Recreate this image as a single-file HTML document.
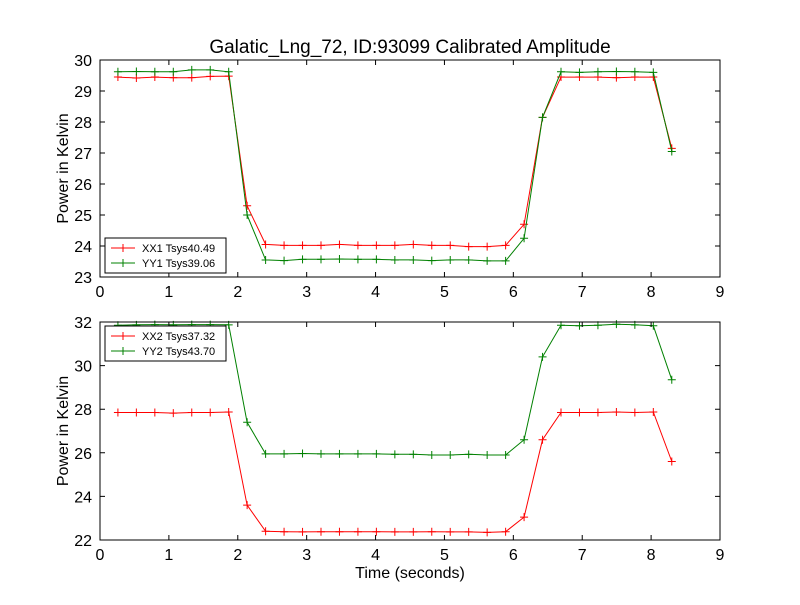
<!DOCTYPE html>
<html><head><meta charset="utf-8"><style>
body{margin:0;background:#fff;}
svg{font-family:"Liberation Sans","DejaVu Sans",sans-serif;}
</style></head><body>
<svg id="chart" width="800" height="600" viewBox="0 0 800 600" xmlns="http://www.w3.org/2000/svg">
<rect width="800" height="600" fill="#fff"/>
<text x="410" y="53" font-size="19" text-anchor="middle">Galatic_Lng_72, ID:93099 Calibrated Amplitude</text>
<g id="g1"></g><g id="g2"></g>
<text x="410" y="578" font-size="16" text-anchor="middle">Time (seconds)</text>
</svg>
<script>
const times = [];
for (let i = 0; i < 31; i++) times.push(+(0.26 + i * 0.268).toFixed(3));
const xx1 = [29.45,29.42,29.45,29.43,29.43,29.47,29.48,25.3,24.05,24.02,24.02,24.02,24.05,24.02,24.02,24.02,24.05,24.02,24.02,23.98,23.98,24.02,24.7,28.15,29.45,29.45,29.45,29.43,29.45,29.45,27.15];
const yy1 = [29.62,29.63,29.62,29.62,29.68,29.68,29.62,25.0,23.55,23.53,23.57,23.57,23.58,23.57,23.57,23.55,23.55,23.53,23.55,23.55,23.52,23.52,24.25,28.15,29.62,29.6,29.62,29.63,29.62,29.6,27.05];
const xx2 = [27.85,27.85,27.85,27.82,27.85,27.85,27.87,23.6,22.4,22.38,22.37,22.38,22.38,22.38,22.38,22.37,22.37,22.38,22.37,22.37,22.35,22.38,23.05,26.6,27.85,27.85,27.85,27.87,27.85,27.87,25.6];
const yy2 = [31.85,31.87,31.88,31.87,31.88,31.88,31.87,27.4,25.95,25.95,25.97,25.95,25.95,25.95,25.95,25.93,25.93,25.9,25.9,25.93,25.9,25.9,26.6,30.4,31.85,31.83,31.85,31.9,31.87,31.83,29.35];
const xTicks = [0,1,2,3,4,5,6,7,8,9];
const yTicks1 = [23,24,25,26,27,28,29,30];
const yTicks2 = [22,24,26,28,30,32];
const labels1 = ["XX1 Tsys40.49","YY1 Tsys39.06"];
const labels2 = ["XX2 Tsys37.32","YY2 Tsys43.70"];
const NS = "http://www.w3.org/2000/svg";
function mk(parent, tag, attrs){const e=document.createElementNS(NS,tag);for(const k in attrs)e.setAttribute(k,attrs[k]);parent.appendChild(e);return e;}
function panel(gid, top, bottom, ymin, ymax, yTicks, s1, s2, labels, legY, name){
  const g=document.getElementById(gid);
  const L=100,R=720;
  const xs=v=>L+(v-0)/(9-0)*(R-L);
  const ys=v=>bottom-(v-ymin)/(ymax-ymin)*(bottom-top);
  [[s1,"#ff0000"],[s2,"#008000"]].forEach(([s,c],si)=>{
    const pts=s.map((v,i)=>xs(times[i]).toFixed(1)+","+ys(v).toFixed(1)).join(" ");
    const pl=mk(g,"polyline",{points:pts,fill:"none",stroke:c,"stroke-width":1});
    
    
    s.forEach((v,i)=>{const x=xs(times[i]),y=ys(v);
      const m=mk(g,"path",{d:`M${x-4},${y}H${x+4}M${x},${y-4}V${y+4}`,stroke:c,"stroke-width":1});
      
      
    });
  });
  const fr=mk(g,"rect",{x:L,y:top,width:R-L,height:bottom-top,fill:"none",stroke:"#000","stroke-width":1});
  
  
  xTicks.forEach(t=>{const x=xs(t);
    mk(g,"path",{d:`M${x},${bottom}v-5M${x},${top}v5`,stroke:"#000"});
    const tx=mk(g,"text",{x:x,y:bottom+20,"font-size":16,"text-anchor":"middle"});tx.textContent=t;
    
    
  });
  yTicks.forEach(t=>{const y=ys(t);
    mk(g,"path",{d:`M${L},${y}h5M${R},${y}h-5`,stroke:"#000"});
    const tx=mk(g,"text",{x:L-8,y:y+6,"font-size":16,"text-anchor":"end"});tx.textContent=t;
    
    
  });
  const yt=mk(g,"text",{x:0,y:0,"font-size":16,"text-anchor":"middle",transform:`translate(68,${(top+bottom)/2}) rotate(-90)`});
  yt.textContent="Power in Kelvin";
  
  
  const lg=mk(g,"g",{});
  
  
  mk(lg,"rect",{x:105,y:legY,width:121,height:35,fill:"#fff",stroke:"#000"});
  ["#ff0000","#008000"].forEach((c,i)=>{const y=legY+10+i*15;
    mk(lg,"path",{d:`M111,${y}h24M123,${y-4}v8`,stroke:c});
    const tx=mk(lg,"text",{x:142,y:y+4,"font-size":11});tx.textContent=labels[i];
    
    
  });
}
panel("g1",60,277,23,30,yTicks1,xx1,yy1,labels1,238,"top-panel");
panel("g2",322,540,22,32,yTicks2,xx2,yy2,labels2,326,"bottom-panel");
</script>
</body></html>
